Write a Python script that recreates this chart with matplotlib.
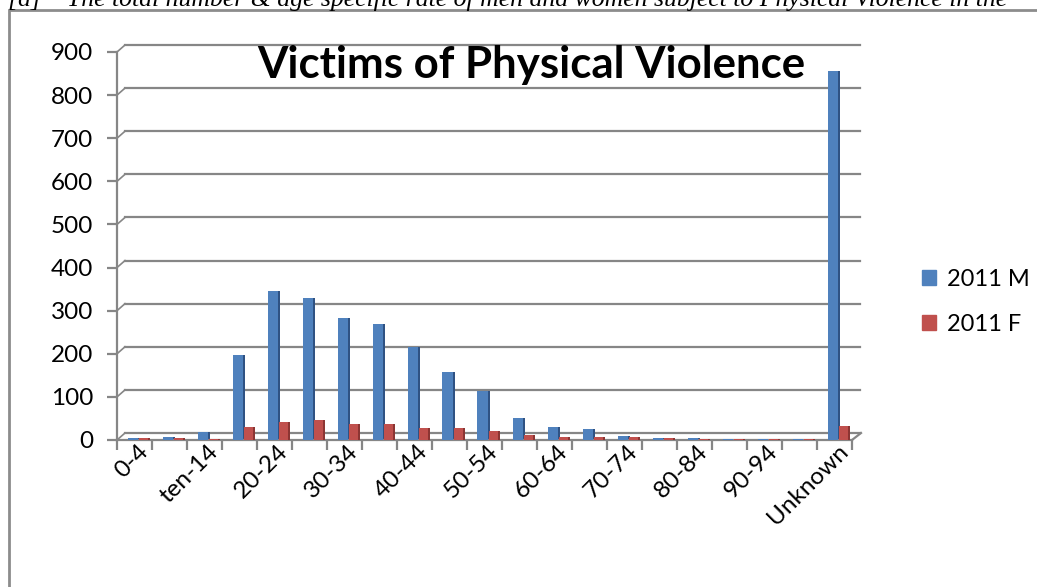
import matplotlib
matplotlib.use("Agg")
import matplotlib.pyplot as plt
import matplotlib.transforms as mtransforms
from matplotlib.patches import Patch, Rectangle
import numpy as np

plt.rcParams['font.family'] = ['Lato', 'DejaVu Sans']

age_groups = ["0-4", "5-9", "ten-14", "15-19", "20-24", "25-29", "30-34", "35-39",
              "40-44", "45-49", "50-54", "55-59", "60-64", "65-69", "70-74", "75-79",
              "80-84", "85-89", "90-94", "95-99", "Unknown"]
male_2011 = [5, 8, 18, 197, 345, 330, 283, 268, 215, 158, 113, 52, 29, 26, 10,
             5, 5, 3, 2, 2, 855]
female_2011 = [4, 4, 3, 30, 42, 47, 38, 38, 28, 27, 22, 12, 8, 6, 8,
               4, 3, 2, 2, 2, 32]
y_ticks = [0, 100, 200, 300, 400, 500, 600, 700, 800, 900]

W, H = 1037, 587
fig = plt.figure(figsize=(W / 100, H / 100), dpi=100)
ax = fig.add_axes([117 / W, (H - 440) / H, 735 / W, 388 / H])

grey = "#868686"
x = np.arange(len(age_groups))

# front faces + darker side faces for a bit of Excel 3D look
ax.bar(x - 0.05, male_2011, width=0.30, color="#4F81BD", label="2011 M", zorder=3)
ax.bar(x + 0.135, male_2011, width=0.07, color="#2F5283", zorder=2)
ax.bar(x + 0.25, female_2011, width=0.26, color="#C0504D", label="2011 F", zorder=4)
ax.bar(x + 0.415, female_2011, width=0.07, color="#8C3533", zorder=3)

ax.set_xlim(-0.5, len(age_groups) - 0.5)
ax.set_ylim(0, 900)

# back wall gridlines, shifted for the depth
depth = mtransforms.ScaledTranslation(8 / 100, 7 / 100, fig.dpi_scale_trans)
ytr = ax.get_yaxis_transform()
for v in y_ticks:
    ax.plot([0, 1], [v, v], transform=ytr + depth, color=grey, lw=1.6,
            clip_on=False, zorder=1)
    ax.plot([0, 8 / 735], [v, v + 7 / 0.431], transform=ytr, color=grey,
            lw=1.2, clip_on=False, zorder=1)
# right end of floor
ax.plot([1, 1 + 9 / 735], [0, 7 / 0.431], transform=ytr, color=grey, lw=1.6,
        clip_on=False)

for side in ["top", "right"]:
    ax.spines[side].set_visible(False)
for side in ["left", "bottom"]:
    ax.spines[side].set_color(grey)
    ax.spines[side].set_linewidth(1.6)

ax.set_yticks(y_ticks)
ax.tick_params(axis="y", length=7, width=1.6, color=grey, labelsize=17.5, pad=10)
ax.set_xticks(x[::2])
ax.set_xticklabels(age_groups[::2], rotation=45, ha="right", va="center",
                   rotation_mode="anchor", fontsize=17.5)
ax.set_xticks(np.arange(len(age_groups) + 1) - 0.5, minor=True)
ax.tick_params(axis="x", which="major", length=0, pad=6)
ax.tick_params(axis="x", which="minor", length=7, width=1.6, color=grey)
shift = mtransforms.ScaledTranslation(10 / 100, 0, fig.dpi_scale_trans)
for lbl in ax.get_xticklabels():
    lbl.set_transform(lbl.get_transform() + shift)

fig.text(531 / W, 1 - 78 / H, "Victims of Physical Violence", ha="center",
         va="baseline", fontsize=31.5, fontweight="bold")

ax.legend(handles=[Patch(color="#4F81BD", label="2011 M"),
                   Patch(color="#C0504D", label="2011 F")],
          loc="center left", bbox_to_anchor=(901 / W, 1 - 302 / H),
          bbox_transform=fig.transFigure, frameon=False, fontsize=17,
          handlelength=0.6, handleheight=0.6, handletextpad=0.45,
          labelspacing=1.0)

# outer chart frame and the clipped caption above it
fig.patches.append(Rectangle((9 / W, -0.1), 1.2, 1.1 - 10 / H, fill=False,
                             edgecolor="#8C8C8C", lw=2, transform=fig.transFigure))
fig.text(8 / W, 1 - 6 / H,
         "[a]    The total number & age specific rate of men and women subject to Physical Violence in the",
         family="Liberation Serif", style="italic", fontsize=18.5, va="baseline")

fig.savefig("out.png", dpi=100)
